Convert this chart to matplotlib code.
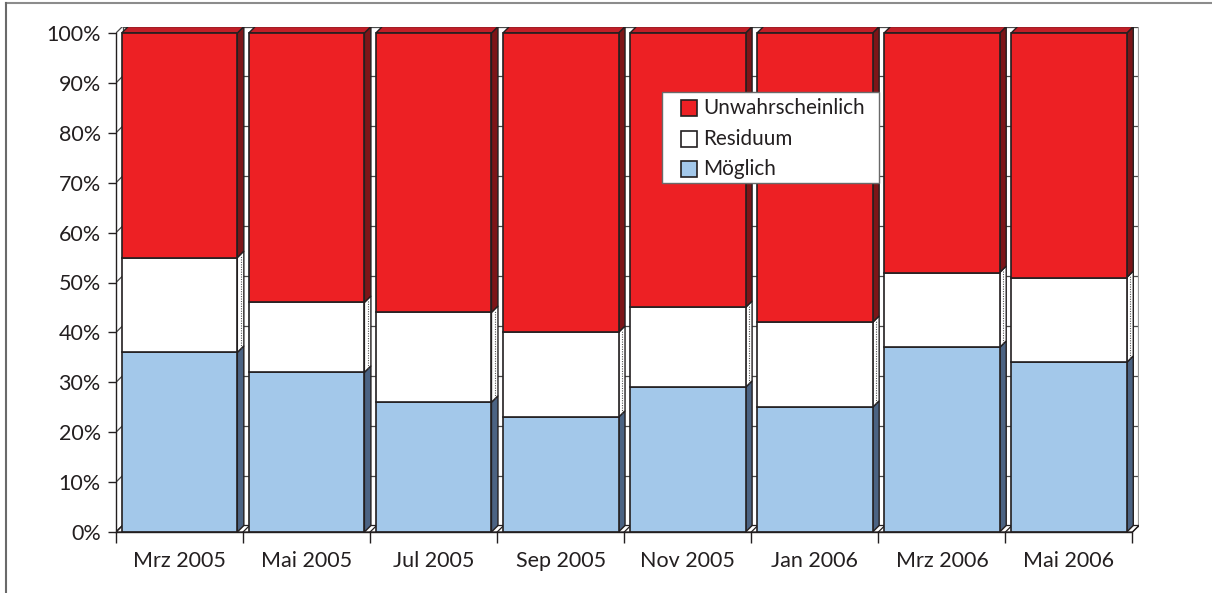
import matplotlib
matplotlib.use("Agg")
import matplotlib.pyplot as plt
from matplotlib.patches import Polygon, Rectangle
from matplotlib.lines import Line2D

# ---- data ----
categories = ['Mrz 2005', 'Mai 2005', 'Jul 2005', 'Sep 2005',
              'Nov 2005', 'Jan 2006', 'Mrz 2006', 'Mai 2006']
moeglich = [36, 32, 26, 23, 29, 25, 37, 34]
residuum = [19, 14, 18, 17, 16, 17, 15, 17]
unwahrscheinlich = [45, 54, 56, 60, 55, 58, 48, 49]
y_ticks = [0, 10, 20, 30, 40, 50, 60, 70, 80, 90, 100]
y_labels = [f"{v}%" for v in y_ticks]
legend_labels = ['Unwahrscheinlich', 'Residuum', 'Möglich']

plt.rcParams['font.family'] = ['Lato', 'DejaVu Sans']
TXT = '#231F20'
EDGE = '#231F20'

W, H = 1212, 593
fig = plt.figure(figsize=(W / 100, H / 100), dpi=100)

# axes geometry in pixels
x_left, x_right = 116, 1139
y_bottom, y_top = 532, 26.5
ax = fig.add_axes([x_left / W, (H - y_bottom) / H,
                   (x_right - x_left) / W, (y_bottom - y_top) / H])

n = len(categories)
px_per_cat = (1132 - 116) / n
px_per_pct = (532 - 33) / 100
depth_px = 6.5
dxd = depth_px / px_per_cat
dyd = depth_px / px_per_pct
ax.set_xlim(-0.5, n - 0.5 + dxd)
ax.set_ylim(0, 100 + dyd)

# ---- back wall, side wall, floor ----
for v in y_ticks:
    ax.plot([-0.5 + dxd, n - 0.5 + dxd], [v + dyd, v + dyd], color='#4a4a4a', lw=0.9, zorder=1)
    ax.plot([-0.5, -0.5 + dxd], [v, v + dyd], color='#4a4a4a', lw=0.9, zorder=1)
ax.plot([-0.5 + dxd, -0.5 + dxd], [dyd, 100 + dyd], color='#4a4a4a', lw=0.9, zorder=1)
ax.plot([n - 0.5 + dxd, n - 0.5 + dxd], [dyd, 100 + dyd], color='#9a9a9a', lw=1.6, zorder=1)
floor = Polygon([(-0.5, 0), (n - 0.5, 0), (n - 0.5 + dxd, dyd), (-0.5 + dxd, dyd)],
                closed=True, facecolor='white', edgecolor=EDGE, lw=0.9, zorder=1.5)
ax.add_patch(floor)
for b in range(n + 1):
    ax.plot([b - 0.5, b - 0.5 + dxd], [0, dyd], color=EDGE, lw=0.9, zorder=1.6)

# ---- bars ----
series = [
    (moeglich, '#A3C8EA', '#4B6383', None),
    (residuum, '#FFFFFF', '#FFFFFF', None),
    (unwahrscheinlich, '#ED2024', '#7D1518', '#C11E27'),
]
width = 0.91
for i in range(n):
    base = 0
    x0 = i - width / 2
    x1 = i + width / 2
    for k, (vals, front, side, top) in enumerate(series):
        v = vals[i]
        y0, y1 = base, base + v
        sp = Polygon([(x1, y0), (x1 + dxd, y0 + dyd), (x1 + dxd, y1 + dyd), (x1, y1)],
                     closed=True, facecolor=side, edgecolor=EDGE, lw=1.0, zorder=3)
        ax.add_patch(sp)
        if k == 1:
            ax.plot([x1 + dxd * 0.55, x1 + dxd * 0.55], [y0 + dyd * 0.6, y1 + dyd * 0.4],
                    color='#555555', lw=0.8, ls=(0, (1, 1.2)), zorder=3.1)
        if top is not None:
            tp = Polygon([(x0, y1), (x0 + dxd, y1 + dyd), (x1 + dxd, y1 + dyd), (x1, y1)],
                         closed=True, facecolor=top, edgecolor=EDGE, lw=1.0, zorder=3)
            ax.add_patch(tp)
        base = y1
    ax.bar([i], [moeglich[i]], width=width, bottom=0, color=series[0][1],
           edgecolor=EDGE, lw=1.2, zorder=4)
    ax.bar([i], [residuum[i]], width=width, bottom=moeglich[i], color=series[1][1],
           edgecolor=EDGE, lw=1.2, zorder=4)
    ax.bar([i], [unwahrscheinlich[i]], width=width, bottom=moeglich[i] + residuum[i],
           color=series[2][1], edgecolor=EDGE, lw=1.2, zorder=4)

# ---- axes styling ----
for s in ['top', 'right']:
    ax.spines[s].set_visible(False)
ax.spines['left'].set_bounds(0, 100)
ax.spines['bottom'].set_bounds(-0.5, n - 0.5)
for s in ['left', 'bottom']:
    ax.spines[s].set_color(EDGE)
    ax.spines[s].set_linewidth(1.0)
    ax.spines[s].set_zorder(5)

ax.set_yticks(y_ticks)
ax.set_yticklabels(y_labels, fontsize=15.5, color=TXT)
ax.tick_params(axis='y', length=6, width=1.0, color=EDGE, pad=5)

ax.set_xticks([b - 0.5 for b in range(n + 1)])
ax.set_xticklabels([])
ax.set_xticks(list(range(n)), minor=True)
ax.set_xticklabels(categories, minor=True, fontsize=15.5, color=TXT)
ax.tick_params(axis='x', which='major', length=8, width=1.0, color=EDGE)
ax.tick_params(axis='x', which='minor', length=0, pad=14)
ax.set_facecolor('none')

# ---- legend (drawn manually) ----
def fx(px):
    return px / W

def fy(py):
    return (H - py) / H

lg_x0, lg_x1, lg_y0, lg_y1 = 662, 879, 92, 183
fig.patches.append(Rectangle((fx(lg_x0), fy(lg_y1)), fx(lg_x1) - fx(lg_x0), fy(lg_y0) - fy(lg_y1),
                             transform=fig.transFigure, facecolor='white',
                             edgecolor='#6a6a6a', lw=1.0, zorder=10))
legend_colors = ['#ED2024', '#FFFFFF', '#A3C8EA']
row_y = [108, 139, 169]
for lab, col, ry in zip(legend_labels, legend_colors, row_y):
    fig.patches.append(Rectangle((fx(681), fy(ry + 8)), fx(16), 16 / H,
                                 transform=fig.transFigure, facecolor=col,
                                 edgecolor=EDGE, lw=1.2, zorder=11))
    fig.text(fx(703), fy(ry), lab, fontsize=14.9, color=TXT, va='center', ha='left', zorder=12)

# ---- outer frame ----
fig.add_artist(Line2D([fx(6), 1], [fy(3), fy(3)], transform=fig.transFigure, color='#8c8c8c', lw=1.5))
fig.add_artist(Line2D([fx(6), fx(6)], [fy(3), 0], transform=fig.transFigure, color='#6a6a6a', lw=1.5))

fig.savefig('out.png', dpi=100)
